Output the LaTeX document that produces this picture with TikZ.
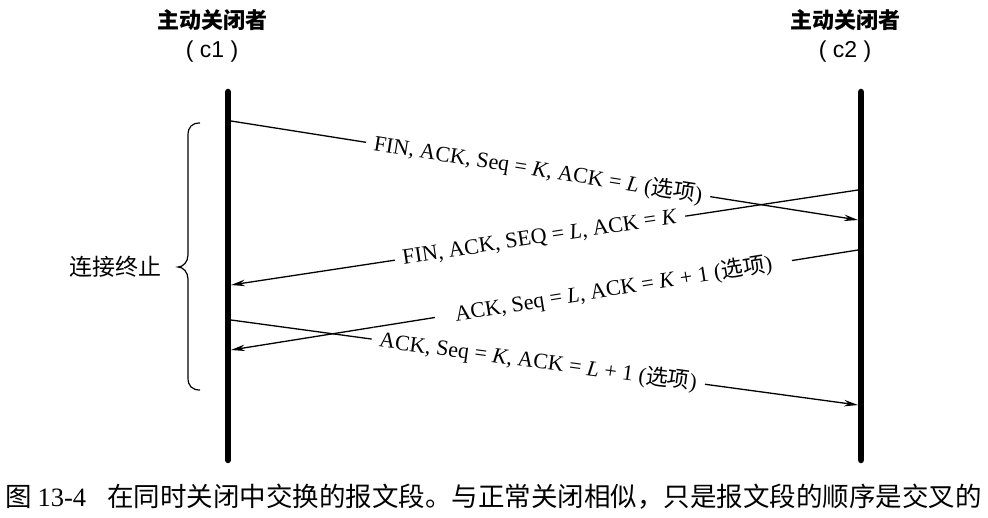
\documentclass[tikz,border=0pt]{standalone}
\usepackage{fontspec}
\setmainfont{Liberation Serif}
\setsansfont{Liberation Sans}
\newfontfamily\cjk{Noto Sans CJK SC}
\usetikzlibrary{arrows.meta}
\begin{document}
\begin{tikzpicture}[x=1pt,y=-1pt,
  lifeline/.style={line width=6.5pt, line cap=round},
  msg/.style={line width=1.3pt, -{Stealth[length=14pt,width=6.5pt]}},
  lbl/.style={fill=white, inner ysep=0pt, inner xsep=8pt,
              font=\fontsize{22}{24}\selectfont},
  title/.style={font=\cjk\bfseries\fontsize{22}{26}\selectfont},
  sub/.style={font=\sffamily\fontsize{23}{26}\selectfont},
  side/.style={font=\cjk\fontsize{23}{26}\selectfont},
  capt/.style={font=\cjk\fontsize{26.5}{32}\selectfont, inner sep=0pt}]
\useasboundingbox (0,0) rectangle (988,518);

% headers
\node[title] (t1) at (212,20) {主动关闭者};
\node[sub]   (s1) at (212,52) {( c1 )};
\node[title] (t2) at (845,20) {主动关闭者};
\node[sub]   (s2) at (845,52) {( c2 )};

% life lines
\coordinate (L1top) at (228,92);  \coordinate (L1bot) at (228,460);
\coordinate (L2top) at (861,92);  \coordinate (L2bot) at (861,460);

% message end points
\coordinate (a1s) at (231,121); \coordinate (a1e) at (858,220);
\coordinate (a2s) at (858,190); \coordinate (a2e) at (231,285);
\coordinate (a3s) at (858,250); \coordinate (a3e) at (231,350);
\coordinate (a4s) at (231,320); \coordinate (a4e) at (858,405);

\draw[msg] (a1s) -- (a1e);
\draw[msg] (a2s) -- (a2e);
\draw[msg] (a3s) -- (a3e);
\draw[msg] (a4s) -- (a4e);

\path (a1s) -- (a1e) node[lbl, pos=0.49, rotate=-9] (m1)
  {FIN, ACK, Seq = \textit{K}, ACK = \textit{L} ({\cjk 选项})};
\path (a2s) -- (a2e) node[lbl, pos=0.507, rotate=8.6] (m2)
  {FIN, ACK, SEQ = \textit{L}, ACK = \textit{K}};
\path (a3s) -- (a3e) node[lbl, pos=0.39, inner xsep=20pt, rotate=9.1] (m3)
  {ACK, Seq = \textit{L}, ACK = \textit{K} + 1 ({\cjk 选项})};
\path (a4s) -- (a4e) node[lbl, pos=0.49, rotate=-7.7] (m4)
  {ACK, Seq = \textit{K}, ACK = \textit{L} + 1 ({\cjk 选项})};

\draw[lifeline] (L1top) -- (L1bot);
\draw[lifeline] (L2top) -- (L2bot);

% brace
\draw[line width=1.2pt] (200,123) .. controls (192,123) and (188,127) .. (188,135)
  -- (188,255) .. controls (188,262) and (183,267) .. (178,267)
  .. controls (183,267) and (188,272) .. (188,279)
  -- (188,378) .. controls (188,386) and (192,390) .. (200,390);
\node[side] (term) at (115,267) {连接终止};

% caption
\node[capt, anchor=west] (cap) at (5,497)
  {图 {\rmfamily 13-4}\hspace{0.8em}在同时关闭中交换的报文段。与正常关闭相似，只是报文段的顺序是交叉的};
\end{tikzpicture}
\end{document}
